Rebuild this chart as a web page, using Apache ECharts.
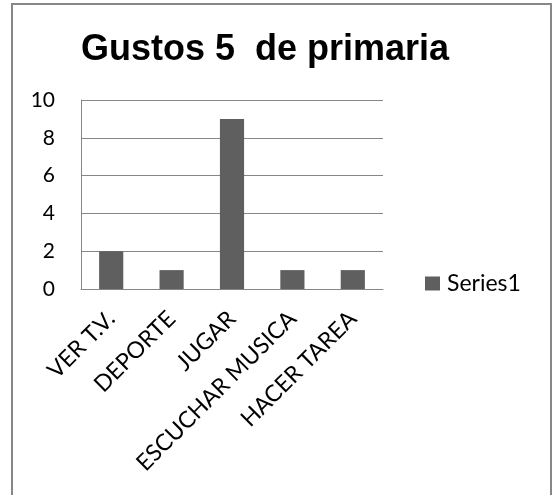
<!DOCTYPE html>
<html>
<head>
<meta charset="utf-8">
<script src="https://cdn.jsdelivr.net/npm/echarts@6/dist/echarts.min.js"></script>
<style>
  html, body { margin: 0; padding: 0; background: #fff; }
  #chart { width: 555px; height: 495px; }
</style>
</head>
<body>
<div id="chart"></div>
<script>
// Activities and how many pupils chose each one
const categories = ['VER T.V.', 'DEPORTE', 'JUGAR', 'ESCUCHAR MUSICA', 'HACER TAREA'];
const series1 = [2, 1, 9, 1, 1];
const seriesName = 'Series1';
const titleText = 'Gustos 5  de primaria';

const chart = echarts.init(document.getElementById('chart'), null, { renderer: 'canvas' });
const bodyFont = 'Lato, "Open Sans", sans-serif';

chart.setOption({
  animation: false,
  backgroundColor: '#fff',
  graphic: [{
    type: 'rect',
    shape: { x: 12, y: 4, width: 539, height: 520 },
    style: { fill: 'none', stroke: '#878787', lineWidth: 2 },
    silent: true
  }],
  title: {
    text: titleText,
    left: 81,
    top: 32,
    padding: 0,
    textStyle: { fontFamily: '"Liberation Sans", Arial, sans-serif', fontWeight: 'bold', fontSize: 36, color: '#000' }
  },
  legend: {
    data: [seriesName],
    left: 425,
    top: 272,
    padding: 0,
    itemWidth: 15,
    itemHeight: 14,
    itemGap: 6,
    icon: 'rect',
    textStyle: { fontFamily: bodyFont, fontSize: 23, color: '#000', padding: [0, 0, 0, 2] }
  },
  grid: { left: 81, top: 100, right: 172, bottom: 206, containLabel: false },
  xAxis: {
    type: 'category',
    data: categories,
    axisLine: { show: true, lineStyle: { color: '#868686', width: 1 } },
    axisTick: { show: false },
    axisLabel: { rotate: 45, interval: 0, margin: 26, fontFamily: bodyFont, fontSize: 23, color: '#000' }
  },
  yAxis: {
    type: 'value',
    min: 0,
    max: 10,
    interval: 2,
    axisLine: { show: true, lineStyle: { color: '#868686', width: 1 } },
    axisTick: { show: false },
    splitLine: { show: true, lineStyle: { color: '#868686', width: 1 } },
    axisLabel: { margin: 26, fontFamily: bodyFont, fontSize: 21, color: '#000' }
  },
  series: [{
    name: seriesName,
    type: 'bar',
    data: series1,
    barWidth: '40%',
    itemStyle: { color: '#5f5f5f' }
  }]
});
</script>
</body>
</html>
